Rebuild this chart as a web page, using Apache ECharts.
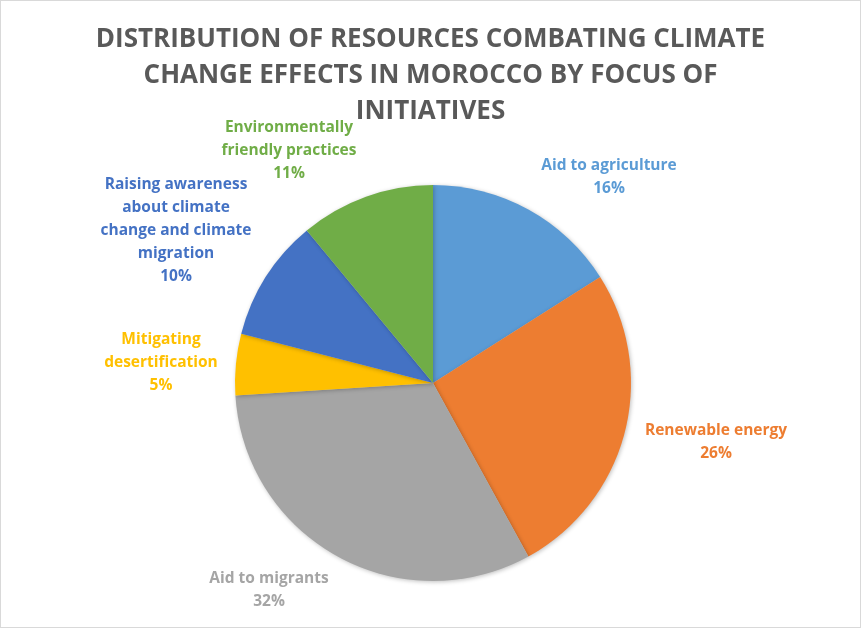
<!DOCTYPE html>
<html>
<head>
<meta charset="utf-8">
<script src="https://cdn.jsdelivr.net/npm/echarts@6/dist/echarts.min.js"></script>
<style>
html, body { margin:0; padding:0; background:#fff; }
#main { width:859px; height:626px; border:1px solid #d9d9d9; }
</style>
</head>
<body>
<div id="main"></div>
<script>
// categories clockwise from 12 o'clock
const categories = ['Aid to agriculture', 'Renewable energy', 'Aid to migrants', 'Mitigating desertification', 'Raising awareness about climate change and climate migration', 'Environmentally friendly practices'];
const labelText = ['Aid to agriculture', 'Renewable energy', 'Aid to migrants', 'Mitigating\ndesertification', 'Raising awareness\nabout climate\nchange and climate\nmigration', 'Environmentally\nfriendly practices'];
const values = [16, 26, 32, 5, 10, 11];
const colors = ['#5B9BD5', '#ED7D31', '#A5A5A5', '#FFC000', '#4472C4', '#70AD47'];
// label anchor (centre of text block), px
const labelPos = [[608, 176], [715, 441], [268, 589], [160, 362], [175, 230], [288, 150]];

const font = '"Open Sans", "Noto Sans", sans-serif';
const chart = echarts.init(document.getElementById('main'));
chart.setOption({
    animation: false,
    title: {
        text: 'DISTRIBUTION OF RESOURCES COMBATING CLIMATE\nCHANGE EFFECTS IN MOROCCO BY FOCUS OF\nINITIATIVES',
        left: 'center', top: 16,
        textStyle: { fontFamily: font, fontSize: 26, fontWeight: 'bold', color: '#595959', lineHeight: 36 }
    },
    series: [{
        type: 'pie',
        center: [432, 382],
        radius: 198,
        startAngle: 90,
        clockwise: true,
        itemStyle: { shadowBlur: 4, shadowColor: 'rgba(0,0,0,0.25)', shadowOffsetX: 1, shadowOffsetY: 1 },
        label: {
            show: true,
            formatter: p => labelText[p.dataIndex] + '\n' + p.value + '%',
            fontFamily: font, fontSize: 15.5, fontWeight: 'bold', lineHeight: 23,
            align: 'center'
        },
        labelLine: { show: false },
        labelLayout: p => ({ x: labelPos[p.dataIndex][0], y: labelPos[p.dataIndex][1], align: 'center', verticalAlign: 'middle' }),
        data: categories.map((c, i) => ({
            name: c, value: values[i],
            itemStyle: { color: colors[i] },
            label: { color: colors[i] }
        }))
    }]
});
</script>
</body>
</html>
